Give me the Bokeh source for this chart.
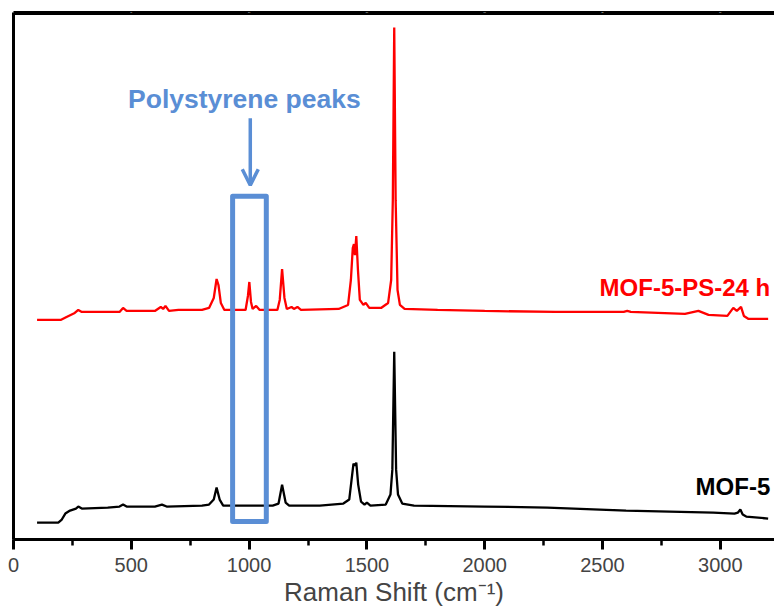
from bokeh.plotting import figure
from bokeh.models import (Range1d, FixedTicker, SingleIntervalTicker, LinearAxis,
                          Label, Arrow, OpenHead)
from bokeh.embed import file_html
from bokeh.resources import INLINE

# ---- data (Raman shift, cm^-1 ; intensity, a.u.) ----
mof5_x = [100, 190, 205, 220, 240, 265, 275, 290, 400, 450, 465, 480, 600, 630, 650,
          800, 830, 850, 862, 875, 890, 1000, 1100, 1125, 1140, 1155, 1170, 1300, 1400,
          1425, 1435, 1443, 1449, 1455, 1463, 1475, 1490, 1500, 1515, 1580, 1600, 1608,
          1616, 1624, 1632, 1650, 1700, 2000, 2266, 2600, 2970, 3060, 3075, 3085, 3095,
          3110, 3203]
mof5_y = [17, 17, 20, 26, 29, 31, 33, 31, 32, 33, 35, 33, 33, 35, 33,
          34, 35, 40, 52, 40, 34, 34, 34, 36, 55, 37, 34, 34, 36,
          40, 60, 76, 74, 77, 55, 38, 35, 37, 34, 35, 45, 70,
          188, 70, 45, 36, 34, 33, 32, 29, 27, 26, 27, 30, 25,
          23, 21]

ps_x = [100, 200, 225, 260, 275, 290, 450, 465, 480, 600, 625, 635, 645, 660, 700,
        800, 830, 850, 862, 870, 880, 895, 985, 995, 1001, 1008, 1015, 1030, 1045,
        1120, 1130, 1140, 1150, 1160, 1180, 1190, 1205, 1220, 1380, 1400, 1420, 1432,
        1440, 1445, 1449, 1455, 1462, 1470, 1485, 1495, 1510, 1560, 1590, 1603, 1610,
        1616, 1622, 1630, 1640, 1660, 1800, 2000, 2300, 2590, 2605, 2620, 2850, 2907,
        2950, 3030, 3055, 3070, 3088, 3100, 3120, 3203]
ps_y = [220, 220, 223, 227, 230, 228, 228, 232, 229, 229, 233, 231, 234, 229, 230,
        230, 232, 242, 261, 255, 237, 230, 230, 244, 258, 238, 231, 234, 230,
        230, 240, 271, 242, 231, 233, 231, 233, 230, 231, 233, 235, 260,
        292, 296, 285, 304, 270, 240, 235, 237, 232, 232, 237, 260, 340,
        513, 340, 250, 235, 231, 230, 229, 228, 228, 229, 228, 226, 229,
        225, 224, 232, 229, 233, 224, 221, 221]

series_labels = ["MOF-5", "MOF-5-PS-24 h"]
ps_band = [930, 1073]          # highlighted polystyrene region, cm^-1
x_ticks_interval = 500
X_MAX = 3230
Y_MAX = 528
FRAME_TOP = 527                # top border line of the plot box (inside the frame)

BLUE = "#5A8ED5"
FONT = "Liberation Sans"

p = figure(width=774, height=609, output_backend="svg", toolbar_location=None,
           x_range=Range1d(0, X_MAX), y_range=Range1d(0, Y_MAX),
           min_border_left=13, min_border_right=0, min_border_top=12, min_border_bottom=69)
p.outline_line_color = None
p.xgrid.visible = False
p.ygrid.visible = False
p.background_fill_color = "white"
p.border_fill_color = "white"

# x axis
xa = p.xaxis[0]
xa.ticker = SingleIntervalTicker(interval=x_ticks_interval, num_minor_ticks=2)
xa.axis_line_width = 3
xa.major_tick_line_width = 3
xa.major_tick_out = 10
xa.major_tick_in = 0
xa.minor_tick_line_width = 2.5
xa.minor_tick_out = 6
xa.minor_tick_in = 0
xa.major_label_text_font = FONT
xa.major_label_text_font_size = "20px"
xa.major_label_standoff = 8
xa.axis_label = "Raman Shift (cm\u207b\u00b9)"
xa.axis_label_text_font = FONT
xa.axis_label_text_font_size = "26px"
xa.axis_label_text_font_style = "normal"
xa.axis_label_standoff = 2

# left axis: line only
ya = p.yaxis[0]
ya.ticker = FixedTicker(ticks=[])
ya.axis_line_width = 3
ya.major_tick_line_color = None
ya.minor_tick_line_color = None
ya.major_label_text_font_size = "0px"

# top border of the box: a line-only axis above, plus a line just inside the frame
top_axis = LinearAxis(axis_line_width=3, axis_line_color="black",
                      ticker=SingleIntervalTicker(interval=x_ticks_interval, num_minor_ticks=2),
                      major_tick_in=0, major_tick_out=0, minor_tick_in=0, minor_tick_out=0,
                      major_label_text_color="white", major_label_text_font_size="1px",
                      major_label_standoff=0)
p.add_layout(top_axis, "above")
p.line([0, X_MAX], [FRAME_TOP, FRAME_TOP], line_color="black", line_width=3)

# spectra
p.line(mof5_x, mof5_y, line_color="black", line_width=2.3)
p.line(ps_x, ps_y, line_color="#FF0000", line_width=2.3)

# highlight box
p.quad(left=[ps_band[0]], right=[ps_band[1]], bottom=[18], top=[344],
       fill_color=None, line_color=BLUE, line_width=5, line_join="round")

p.add_layout(Arrow(end=OpenHead(size=16, line_color=BLUE, line_width=3.5),
                   x_start=1005, y_start=422, x_end=1005, y_end=355,
                   line_color=BLUE, line_width=3.5))
p.add_layout(Label(x=980, y=441, text="Polystyrene peaks", text_align="center",
                   text_baseline="middle", text_font=FONT, text_font_size="26.5px",
                   text_font_style="bold", text_color=BLUE))

p.add_layout(Label(x=3212, y=53, text=series_labels[0], text_align="right",
                   text_baseline="middle", text_font=FONT, text_font_size="24px",
                   text_font_style="bold", text_color="black"))
p.add_layout(Label(x=3212, y=252, text=series_labels[1], text_align="right",
                   text_baseline="middle", text_font=FONT, text_font_size="24px",
                   text_font_style="bold", text_color="#FF0000"))

open("out.html", "w").write(file_html(p, INLINE))
